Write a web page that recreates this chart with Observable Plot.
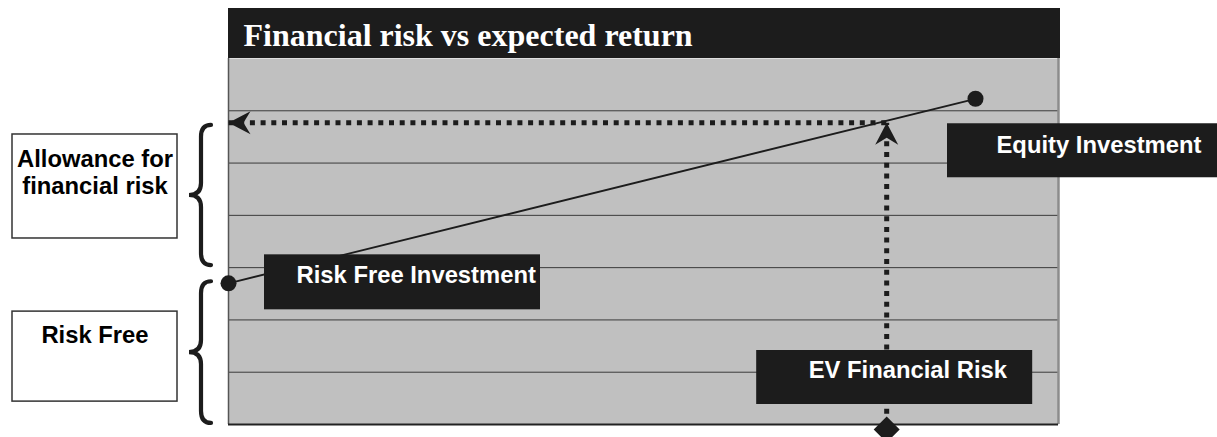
<!DOCTYPE html>
<html><head><meta charset="utf-8">
<script src="https://cdn.jsdelivr.net/npm/d3@7"></script>
<script src="https://cdn.jsdelivr.net/npm/@observablehq/plot@0.6"></script>
<style>
html,body{margin:0;padding:0;background:#fff;overflow:hidden;}
#chart svg{display:block;}
</style></head><body><div id="chart"></div>
<script>
// ---------- data ----------
const chartTitle = "Financial risk vs expected return";
const riskDomain = [0, 10];
const returnDomain = [0, 7];
const gridReturns = [1, 2, 3, 4, 5, 6];

const pointNames = ["Risk Free Investment", "Equity Investment"];
const pointRisk = [0, 9];
const pointReturn = [2.7, 6.23];

const evName = "EV Financial Risk";
const evRisk = 7.93;
const evReturn = 5.77;

const bandLines = [["Allowance for", "financial risk"], ["Risk Free"]];
const bandLow = [3.04, 0.02];
const bandHigh = [5.72, 2.73];

// tables built from the arrays
const points = pointNames.map((name, i) => ({name, risk: pointRisk[i], ret: pointReturn[i]}));
const evPoint = [{name: evName, risk: evRisk, ret: returnDomain[0], level: evReturn}];
const guides = [
  {x1: riskDomain[0], y1: evReturn, x2: evRisk, y2: evReturn},
  {x1: evRisk, y1: returnDomain[0], x2: evRisk, y2: evReturn}
];
const bands = bandLines.map((lines, i) => ({lines, lo: bandLow[i], hi: bandHigh[i], mid: (bandLow[i] + bandHigh[i]) / 2}));

// ---------- layout / styles (pixels) ----------
const W = 1217, H = 437;
const M = {left: 228, right: 159, top: 58, bottom: 13};
const ink = "#1c1c1c";
const sans = "'Liberation Sans', Arial, sans-serif";
const serif = "'Liberation Serif', 'Times New Roman', serif";
const labelSize = 23.8;
const boxLayout = {
  "Risk Free Investment": {bx: 36, by: -28.5, bw: 276, bh: 55, dx: 68, dy: -8.2},
  "Equity Investment":    {bx: -28, by: 25, bw: 300, bh: 54, dx: 21, dy: 46.5},
  "EV Financial Risk":    {bx: -130, by: -74, bw: 276, bh: 54, dx: -78, dy: -54.6}
};
const bandLayout = [
  {by: -61, bh: 104, dys: [-36.6, -9.6]},
  {by: -41, bh: 90, dys: [-17.7]}
];

// stealth arrowheads (tip at origin)
const headL = 22, headW = 11.5, notch = 7;
const arrowLeft = {draw(c) { c.moveTo(0, 0); c.lineTo(headL, -headW); c.lineTo(headL - notch, 0); c.lineTo(headL, headW); c.closePath(); }};
const arrowUp = {draw(c) { c.moveTo(0, 0); c.lineTo(-headW, headL); c.lineTo(0, headL - notch); c.lineTo(headW, headL); c.closePath(); }};

// ---------- custom function marks ----------
const titleBar = (index, scales, values, dims) => {
  const g = d3.create("svg:g");
  g.append("rect").attr("x", dims.marginLeft).attr("y", 8)
    .attr("width", dims.width - dims.marginLeft - dims.marginRight + 2).attr("height", dims.marginTop - 8)
    .attr("fill", ink);
  return g.node();
};

const bandDecor = (index, scales, values, dims) => {
  const g = d3.create("svg:g");
  const ml = dims.marginLeft;
  bands.forEach((b, i) => {
    const y0 = scales.y(b.hi), y1 = scales.y(b.lo), ym = scales.y(b.mid);
    const ex = ml - 17, sx = ml - 27, tx = ml - 39, r = 12;
    const p = d3.path();
    p.moveTo(ex, y0);
    p.quadraticCurveTo(sx, y0, sx, y0 + r);
    p.lineTo(sx, ym - r);
    p.quadraticCurveTo(sx, ym, tx, ym);
    p.quadraticCurveTo(sx, ym, sx, ym + r);
    p.lineTo(sx, y1 - r);
    p.quadraticCurveTo(sx, y1, ex, y1);
    g.append("path").attr("d", p.toString()).attr("fill", "none")
      .attr("stroke", ink).attr("stroke-width", 4.2).attr("stroke-linecap", "round");
    const L = bandLayout[i];
    g.append("rect").attr("x", ml - 216).attr("y", ym + L.by).attr("width", 165).attr("height", L.bh)
      .attr("fill", "#fff").attr("stroke", "#333").attr("stroke-width", 1.5);
  });
  return g.node();
};

const labelBoxes = (items) => (index, scales, values, dims) => {
  const g = d3.create("svg:g");
  for (const d of items) {
    const L = boxLayout[d.name];
    const px = scales.x(d.risk), py = scales.y(d.ret);
    g.append("rect").attr("x", px + L.bx).attr("y", py + L.by).attr("width", L.bw).attr("height", L.bh).attr("fill", ink);
  }
  return g.node();
};

// ---------- marks ----------
const marks = [
  Plot.frame({fill: "#c0c0c0"}),
  Plot.ruleY(gridReturns, {stroke: "#3a3a3a", strokeWidth: 1}),
  Plot.ruleX([riskDomain[0]], {stroke: "#555", strokeWidth: 1.5}),
  Plot.ruleX([riskDomain[1]], {stroke: "#8c8c8c", strokeWidth: 2.5}),
  Plot.ruleY([returnDomain[0]], {stroke: "#222", strokeWidth: 2}),
  titleBar,
  Plot.text([chartTitle], {frameAnchor: "top-left", lineAnchor: "middle", text: d => d, dx: 15, dy: -23.2, textAnchor: "start",
    fill: "#fff", fontFamily: serif, fontWeight: "bold", fontSize: 32}),
  bandDecor,
  Plot.line(points, {x: "risk", y: "ret", stroke: ink, strokeWidth: 1.8}),
  Plot.link(guides, {x1: "x1", y1: "y1", x2: "x2", y2: "y2", stroke: ink, strokeWidth: 5, strokeDasharray: "5,5.7"}),
  Plot.dot([guides[0]], {x: "x1", y: "y1", symbol: arrowLeft, r: 10, fill: ink, stroke: "none"}),
  Plot.dot([guides[1]], {x: "x2", y: "y2", symbol: arrowUp, r: 10, fill: ink, stroke: "none"}),
  Plot.dot(points, {x: "risk", y: "ret", r: 8, fill: ink, stroke: "none"}),
  labelBoxes([...points, ...evPoint]),
  Plot.dot(evPoint, {x: "risk", y: "ret", symbol: "diamond2", r: 11.7, dy: 5, fill: ink, stroke: "none"})
];

for (const d of [...points, ...evPoint]) {
  const L = boxLayout[d.name];
  marks.push(Plot.text([d], {x: "risk", y: "ret", text: "name", dx: L.dx, dy: L.dy, textAnchor: "start", lineAnchor: "middle",
    fill: "#fff", fontFamily: sans, fontWeight: "bold", fontSize: labelSize}));
}
bands.forEach((b, i) => {
  b.lines.forEach((line, j) => {
    marks.push(Plot.text([b], {y: "mid", frameAnchor: "left", lineAnchor: "middle", text: () => line, dx: -133.5, dy: bandLayout[i].dys[j],
      textAnchor: "middle", fill: "#000", fontFamily: sans, fontWeight: "bold", fontSize: labelSize}));
  });
});

const chart = Plot.plot({
  width: W, height: H,
  marginLeft: M.left, marginRight: M.right, marginTop: M.top, marginBottom: M.bottom,
  x: {domain: riskDomain, axis: null},
  y: {domain: returnDomain, axis: null},
  style: {background: "#fff", overflow: "visible"},
  marks
});
document.getElementById("chart").appendChild(chart);
</script>
</body></html>
